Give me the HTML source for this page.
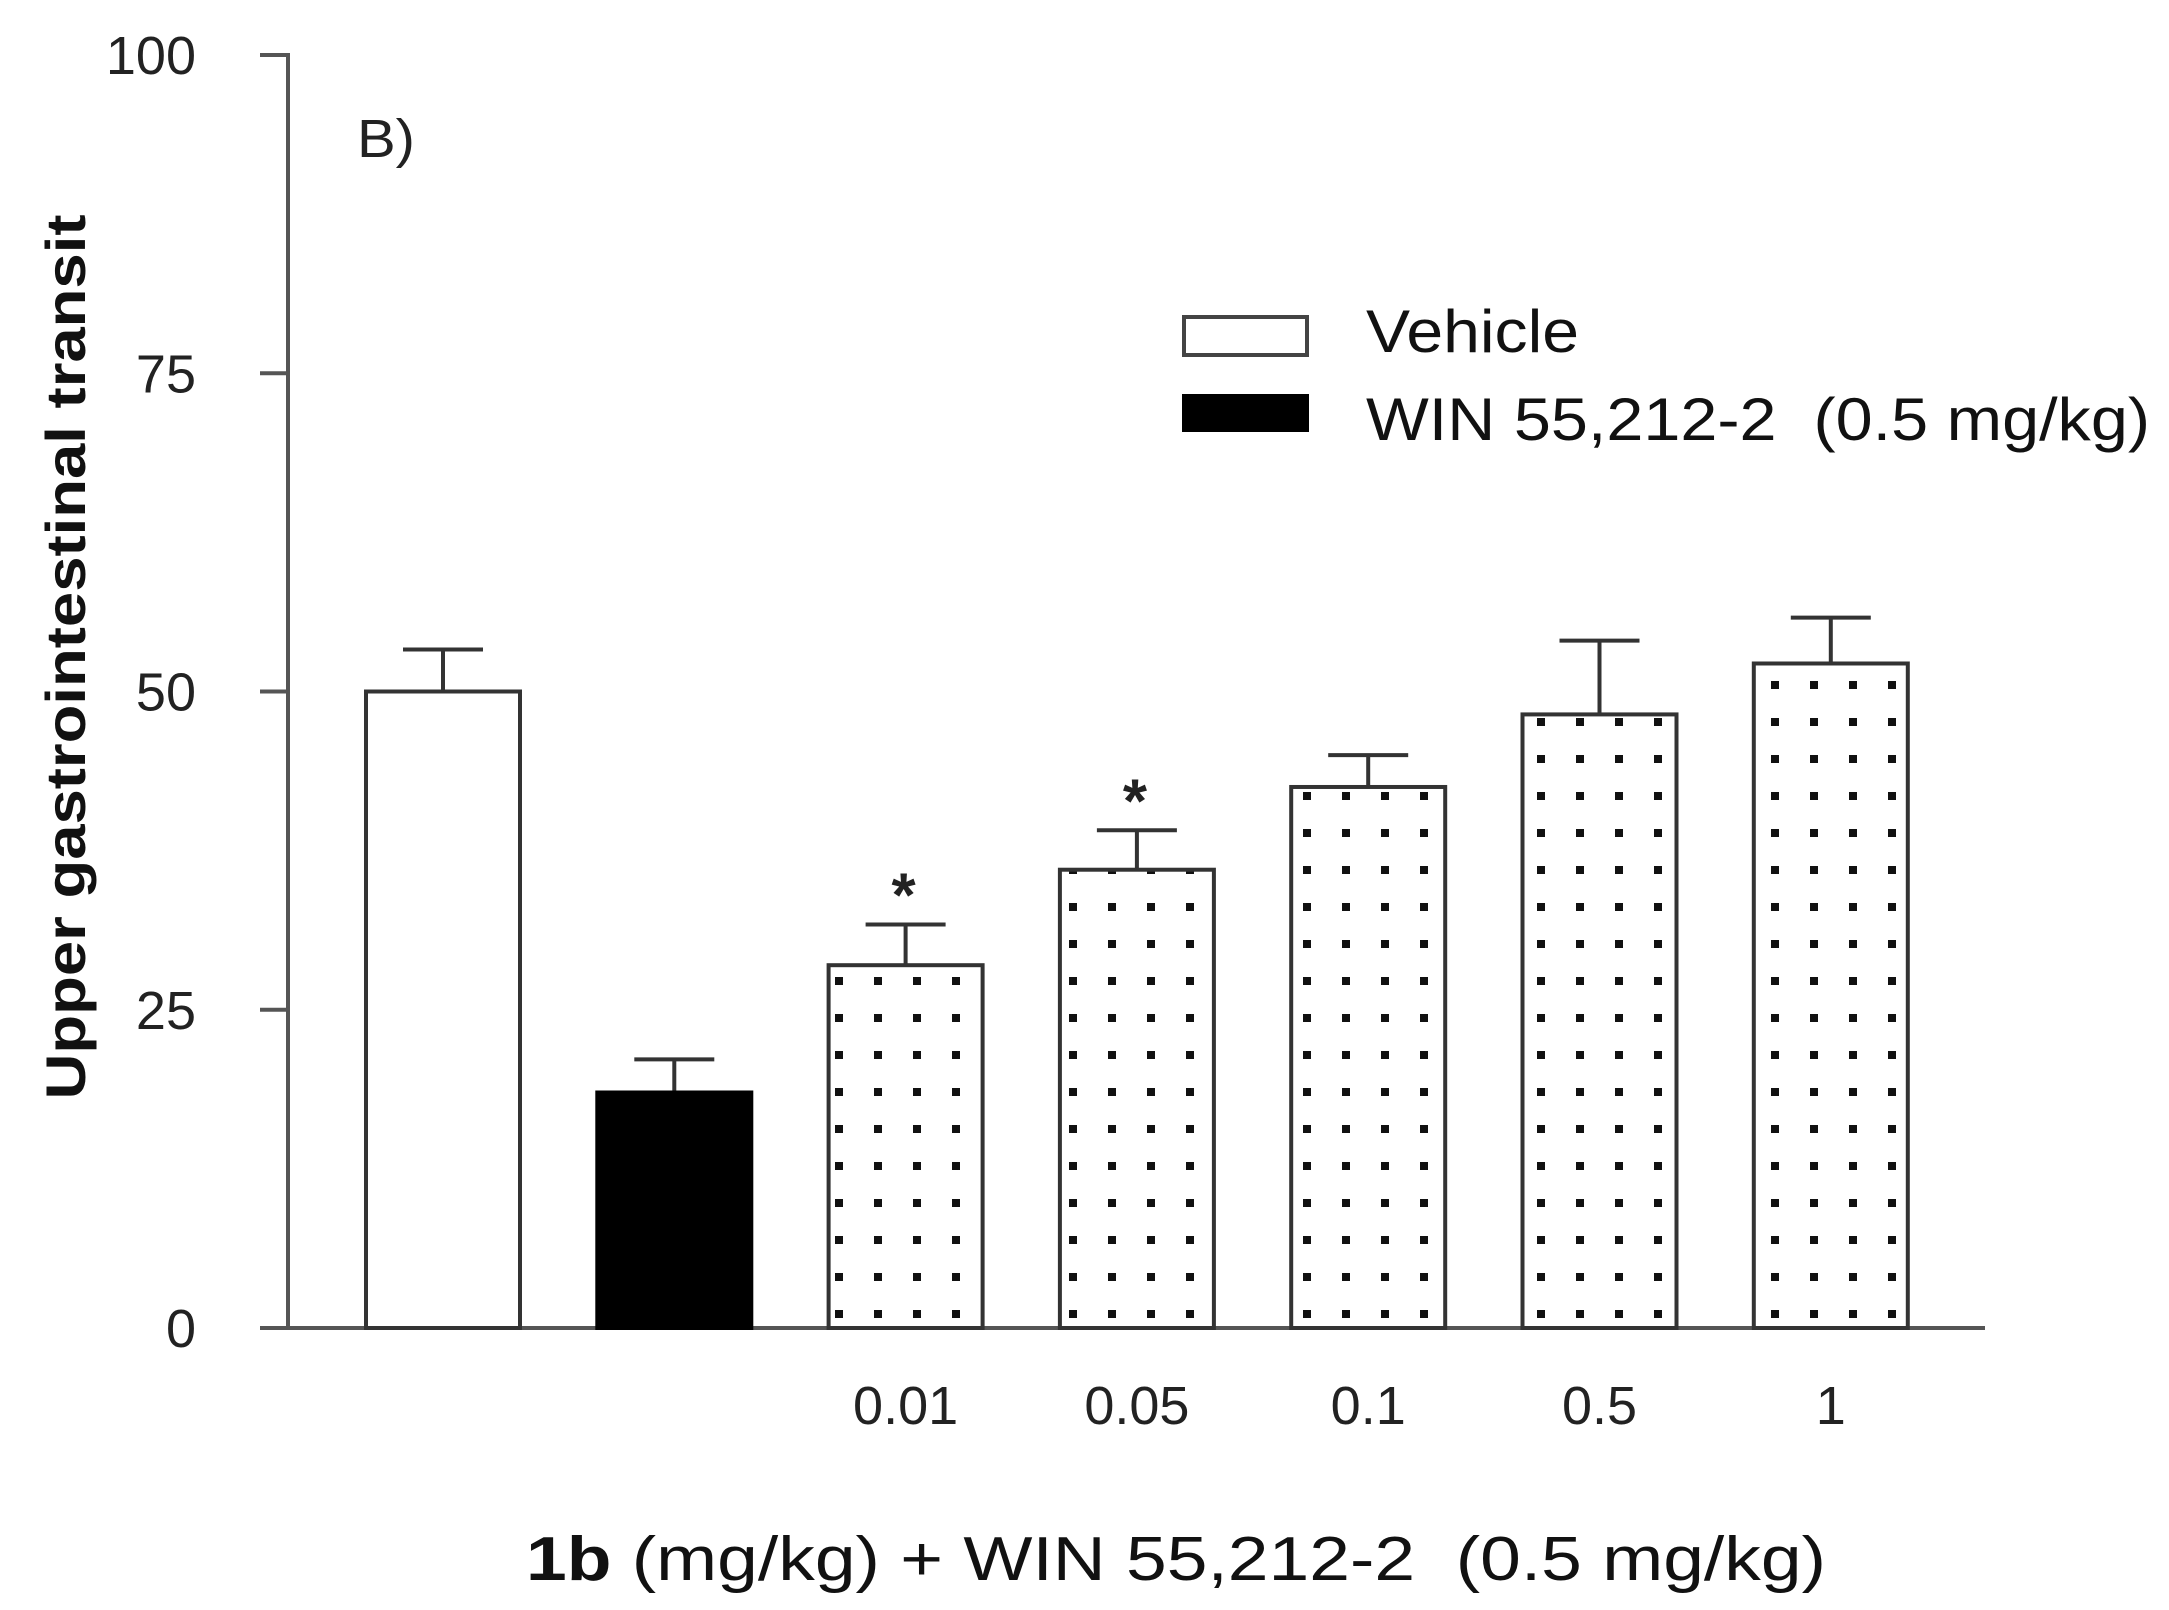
<!DOCTYPE html>
<html><head><meta charset="utf-8"><style>
html,body{margin:0;padding:0;background:#fff;}
svg{display:block;font-family:"Liberation Sans","DejaVu Sans",sans-serif;}
</style></head><body>
<svg id="chart" width="2169" height="1610" viewBox="0 0 2169 1610" xmlns="http://www.w3.org/2000/svg">
<defs>
<pattern id="dots" patternUnits="userSpaceOnUse" width="39" height="37" x="0" y="0">
<rect x="16" y="15" width="8" height="8" fill="#111"/>
</pattern>
</defs>
<g id="axes"></g>
<g id="bars"></g>
<text x="357" y="157" font-size="54" fill="#222" textLength="58" lengthAdjust="spacingAndGlyphs">B)</text>
<text transform="translate(85,657) rotate(-90)" text-anchor="middle" font-size="56" font-weight="bold" fill="#111" textLength="885" lengthAdjust="spacingAndGlyphs">Upper gastrointestinal transit</text>
<text x="1176" y="1580" text-anchor="middle" font-size="62" fill="#111" textLength="1300" lengthAdjust="spacingAndGlyphs" xml:space="preserve"><tspan font-weight="bold">1b</tspan> (mg/kg) + WIN 55,212-2  (0.5 mg/kg)</text>
<g>
<rect x="1184" y="317" width="123" height="38" fill="#fff" stroke="#444" stroke-width="4"/>
<text x="1366" y="352" font-size="60" fill="#111" textLength="213" lengthAdjust="spacingAndGlyphs">Vehicle</text>
<rect x="1182" y="394" width="127" height="38" fill="#000"/>
<text x="1366" y="440" font-size="60" fill="#111" xml:space="preserve" textLength="784" lengthAdjust="spacingAndGlyphs">WIN 55,212-2  (0.5 mg/kg)</text>
</g>
</svg>
<script>
const categories = ["Vehicle", "WIN", "0.01", "0.05", "0.1", "0.5", "1"];
const values = [50, 18.5, 28.5, 36, 42.5, 48.2, 52.2];
const errors = [3.3, 2.6, 3.2, 3.1, 2.5, 5.8, 3.6];
const fills = ["white", "black", "dots", "dots", "dots", "dots", "dots"];
const tickLabels = [0, 25, 50, 75, 100];
const stars = [false, false, true, true, false, false, false];

const NS = "http://www.w3.org/2000/svg";
const y0 = 1328, y100 = 55;
function yScale(v){ return y0 - (v/100)*(y0-y100); }
function xScale(i){ return 366 + i*231.3; }
const barW = 154;

const axes = document.getElementById('axes');
function mk(tag, attrs, parent){
  const e = document.createElementNS(NS, tag);
  for (const k in attrs) e.setAttribute(k, attrs[k]);
  parent.appendChild(e);
  return e;
}
const yAxis = mk('line', {x1:288, y1:yScale(100)-2, x2:288, y2:y0+2, stroke:'#555', 'stroke-width':4}, axes);


const xAxis = mk('line', {x1:260, y1:y0, x2:1985, y2:y0, stroke:'#555', 'stroke-width':4}, axes);


tickLabels.forEach(t => {
  const y = yScale(t);
  const tk = mk('line', {x1:260, y1:y, x2:290, y2:y, stroke:'#555', 'stroke-width':4}, axes);
  
  
  const tx = mk('text', {x:196, y:y+19, 'text-anchor':'end', 'font-size':54, fill:'#222'}, axes);
  tx.textContent = t;
  
  
});

const bars = document.getElementById('bars');
categories.forEach((c, i) => {
  const x = xScale(i), yt = yScale(values[i]);
  const cx = x + barW/2;
  const ye = yScale(values[i] + errors[i]);
  const eb = mk('path', {d:`M${cx},${yt} V${ye} M${cx-40},${ye} H${cx+40}`, stroke:'#333', 'stroke-width':4, fill:'none'}, bars);
  
  
  let fill = fills[i] === 'dots' ? 'url(#dots)' : (fills[i] === 'black' ? '#000' : '#fff');
  if (fills[i] === 'dots') {
    mk('rect', {x:x, y:yt, width:barW, height:y0-yt, fill:'#fff'}, bars);
  }
  const r = mk('rect', {x:x, y:yt, width:barW, height:y0-yt, fill:fill, stroke:fills[i]==='black'?'#000':'#333', 'stroke-width':4}, bars);
  
  
  if (fills[i] === 'dots') {
    const lab = mk('text', {x:cx, y:1424, 'text-anchor':'middle', 'font-size':54, fill:'#222'}, bars);
    lab.textContent = c;
    
    
  }
  if (stars[i]) {
    const s = mk('text', {x:cx-2, y:ye-8, 'text-anchor':'middle', 'font-size':62, 'font-weight':'bold', fill:'#222'}, bars);
    s.textContent = '*';
    
    
  }
});
</script>
</body></html>
